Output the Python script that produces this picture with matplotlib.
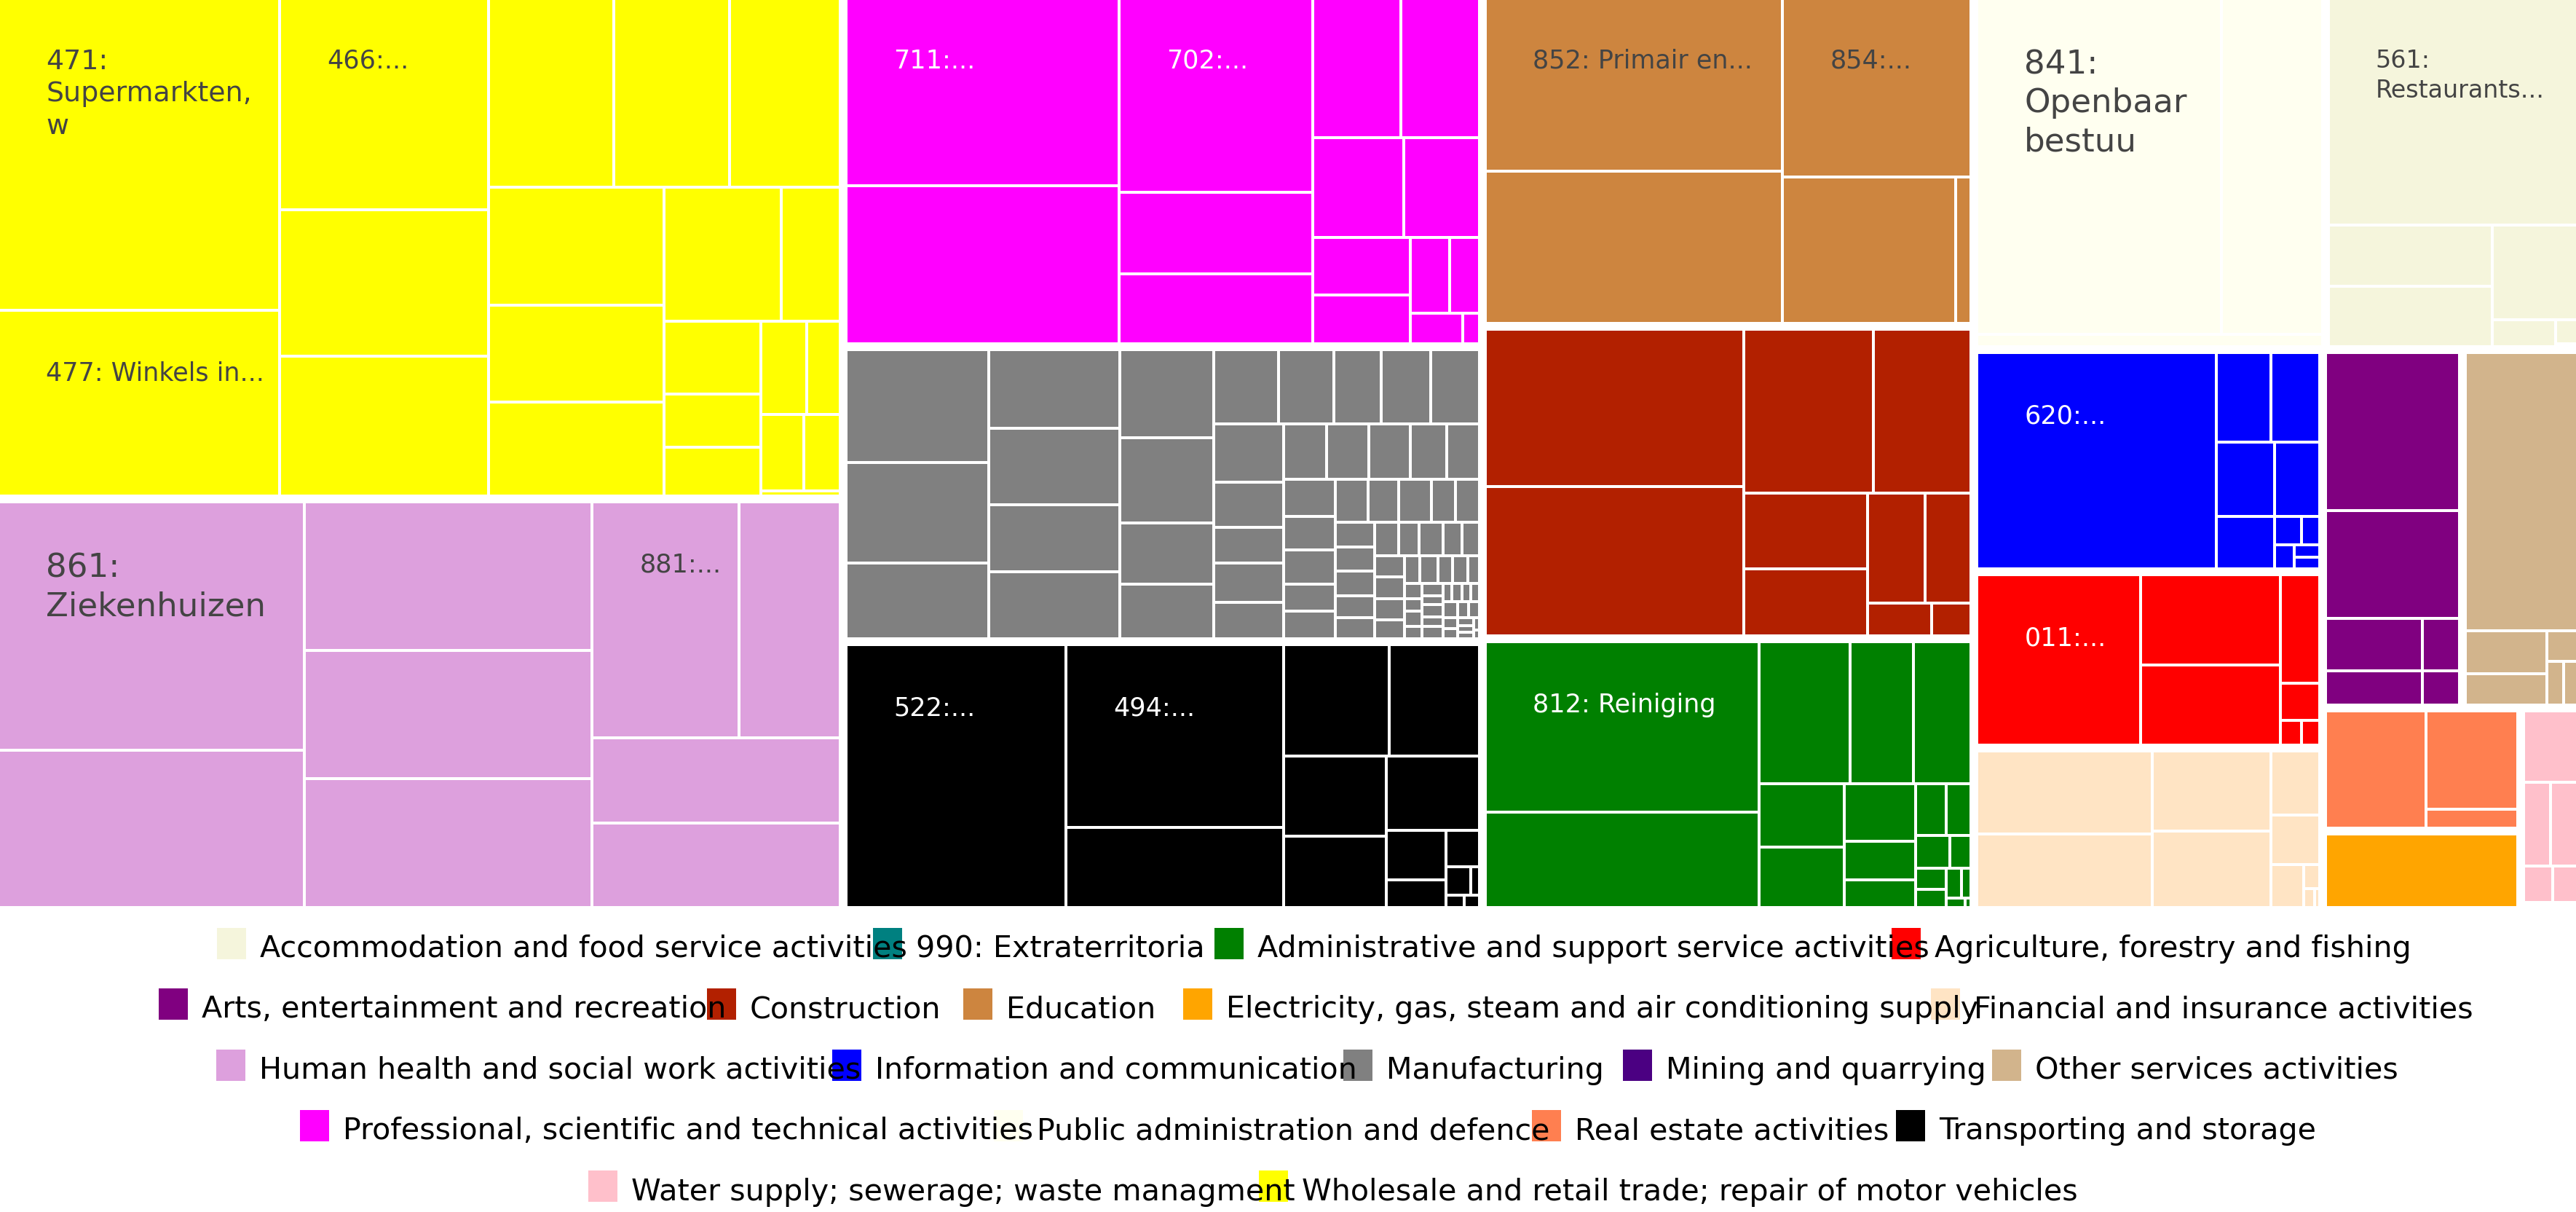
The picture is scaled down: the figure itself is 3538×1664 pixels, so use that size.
import matplotlib
matplotlib.use("Agg")
import matplotlib.pyplot as plt
from matplotlib.patches import Rectangle

# ------------------------------------------------------------------ data
# child values per sector (in display order of the original treemap)
wholesale = [168.7, 100.1, 85.1, 58.6, 56.0, 45.6, 42.2, 40.1, 39.8, 32.6, 31.6,
             30.3, 15.2, 13.6, 9.8, 9.1, 8.2, 6.0, 6.3, 5.3, 0.7]
health = [146.5, 92.7, 82.4, 71.3, 71.3, 66.9, 46.1, 40.5, 40.5]
professional = [99.4, 83.5, 72.8, 30.7, 26.2, 23.8, 21.3, 17.6, 14.6, 10.8, 9.2,
                5.8, 4.4, 3.1, 1.0]
manufacturing = [31.24, 27.86, 21.09, 20.03, 19.30, 17.01, 16.99, 16.15, 15.58,
                 11.11, 10.03, 9.4, 8.02, 6.8, 7.17, 7.12, 7.9, 6.17, 4.92, 5.35,
                 4.96, 4.57, 4.50, 4.48, 3.88, 3.56, 3.67, 3.38, 3.38, 2.75, 2.74,
                 2.74, 2.50, 2.74, 1.99, 2.01, 1.86, 1.85, 1.85, 1.62, 1.62, 1.58,
                 1.35, 1.57, 1.19, 1.17, 1.25, 1.25, 1.25, 1.09, 0.80, 0.97, 0.79,
                 0.80, 0.63, 0.55, 0.42, 0.54, 0.43, 0.51, 0.36, 0.50, 0.38, 0.50,
                 0.32, 0.34, 0.32, 0.32, 0.45, 0.35, 0.35, 0.30, 0.30, 0.25, 0.20,
                 0.20, 0.15, 0.10]
transport = [112.6, 77.2, 33.9, 22.9, 19.7, 16.0, 14.2, 13.5, 5.8, 3.2, 2.4, 1.36,
             0.49, 0.44, 0.37]
education = [99.9, 87.9, 65.6, 49.1, 4.35]
construction = [79.3, 74.7, 41.4, 31.1, 18.4, 16.0, 12.3, 9.8, 4.1, 2.5]
administrative = [90.9, 51.1, 25.2, 17.6, 15.95, 10.6, 10.0, 8.0, 5.45, 3.8, 3.1,
                  2.5, 2.2, 1.4, 1.25, 1.1, 0.9, 0.56, 0.34, 0.11]
public_admin = [160.5, 66.2, 8.3]
accommodation = [111.3, 19.55, 19.55, 15.7, 3.4, 1.04, 0.13]
information = [101.9, 9.63, 8.6, 8.49, 6.68, 6.03, 1.55, 1.04, 0.93, 0.63, 0.6]
agriculture = [55.2, 24.9, 22.2, 8.54, 2.92, 1.05, 0.9]
financial = [29.0, 25.8, 18.9, 18.0, 6.31, 4.79, 2.85, 0.78, 0.38, 0.21]
arts = [42.2, 28.8, 10.1, 6.6, 3.8, 2.5]
other_services = [63.0, 7.1, 5.18, 1.9, 1.48, 1.19]
real_estate = [24.1, 18.36, 3.5]
electricity = [29.5]
water = [8.38, 4.88, 4.88, 2.32, 1.94]
mining = [0.3]
extraterritorial = [0.24]

sector_names = [
    "Accommodation and food service activities", "990: Extraterritoria",
    "Administrative and support service activities", "Agriculture, forestry and fishing",
    "Arts, entertainment and recreation", "Construction", "Education",
    "Electricity, gas, steam and air conditioning supply",
    "Financial and insurance activities", "Human health and social work activities",
    "Information and communication", "Manufacturing", "Mining and quarrying",
    "Other services activities", "Professional, scientific and technical activities",
    "Public administration and defence", "Real estate activities",
    "Transporting and storage", "Water supply; sewerage; waste managment",
    "Wholesale and retail trade; repair of motor vehicles",
]
sector_children = [
    accommodation, extraterritorial, administrative, agriculture, arts, construction,
    education, electricity, financial, health, information, manufacturing, mining,
    other_services, professional, public_admin, real_estate, transport, water, wholesale,
]
sector_colors = [
    "#F5F5DC", "#008080", "#008000", "#FF0000", "#800080", "#B22000", "#CD853F",
    "#FFA500", "#FFE4C4", "#DDA0DD", "#0000FF", "#808080", "#4B0082", "#D2B48C",
    "#FF00FF", "#FFFFF0", "#FF7F50", "#000000", "#FFC0CB", "#FFFF00",
]

# labelled cells: (sector index, child index, text)
cell_labels = [
    (19, 0, "471:\nSupermarkten,\nw"), (19, 1, "477: Winkels in..."), (19, 2, "466:..."),
    (9, 0, "861:\nZiekenhuizen"), (9, 5, "881:..."),
    (14, 0, "711:..."), (14, 2, "702:..."),
    (17, 0, "522:..."), (17, 1, "494:..."),
    (6, 0, "852: Primair en..."), (6, 2, "854:..."),
    (2, 0, "812: Reiniging"),
    (15, 0, "841:\nOpenbaar\nbestuu"),
    (0, 0, "561:\nRestaurants..."),
    (10, 0, "620:..."), (3, 0, "011:..."),
]
legend_row_sizes = [4, 5, 5, 4, 2]

# ------------------------------------------------------------------ style
W, H = 3538, 1665
TREE_H = 1245
PAD_TOP, PAD_LEAF = 6, 2
label_font = {(19, 0): 27.3, (9, 0): 32.5, (15, 0): 32.5, (0, 0): 24.0}
default_label_font = 25.2
dark_text = "#444444"
light_bg = {0, 6, 9, 15, 19}
LEG_FS = 29.7

PHI = (1 + 5 ** 0.5) / 2


def squarify(values, x0, y0, x1, y1, ratio=PHI):
    n = len(values)
    rects = [None] * n
    value = float(sum(values))
    i0 = i1 = 0
    while i0 < n:
        dx, dy = max(x1 - x0, 1e-9), max(y1 - y0, 1e-9)
        sum_v = values[i1]
        i1 += 1
        min_v = max_v = sum_v
        alpha = max(dy / dx, dx / dy) / (value * ratio)
        beta = sum_v * sum_v * alpha
        min_ratio = max(max_v / beta, beta / min_v)
        while i1 < n:
            nv = values[i1]
            s = sum_v + nv
            mn, mx = min(min_v, nv), max(max_v, nv)
            beta = s * s * alpha
            new_ratio = max(mx / beta, beta / mn)
            if new_ratio > min_ratio:
                break
            sum_v, min_v, max_v, min_ratio = s, mn, mx, new_ratio
            i1 += 1
        if dx < dy:
            ny = y0 + dy * sum_v / value
            k = dx / sum_v
            xx = x0
            for j in range(i0, i1):
                rects[j] = (xx, y0, xx + values[j] * k, ny)
                xx += values[j] * k
            y0 = ny
        else:
            nx = x0 + dx * sum_v / value
            k = dy / sum_v
            yy = y0
            for j in range(i0, i1):
                rects[j] = (x0, yy, nx, yy + values[j] * k)
                yy += values[j] * k
            x0 = nx
        value -= sum_v
        i0 = i1
    return rects


def position(values, x0, y0, x1, y1, pad):
    out = []
    for a, b, c, d in squarify(values, x0 - pad, y0 - pad, x1 + pad, y1 + pad):
        a, b, c, d = a + pad, b + pad, c - pad, d - pad
        if c < a:
            a = c = (a + c) / 2
        if d < b:
            b = d = (b + d) / 2
        out.append((a, b, c, d))
    return out


fig = plt.figure(figsize=(W / 100, H / 100), dpi=100)
ax = fig.add_axes([0, 0, 1, 1])
ax.set_xlim(0, W)
ax.set_ylim(H, 0)
ax.axis("off")
plt.rcParams["font.family"] = ["DejaVu Sans"]

totals = [sum(c) for c in sector_children]
order = sorted(range(len(totals)), key=lambda i: -totals[i])
top_rects = position([totals[i] for i in order], 0, 0, W, TREE_H, PAD_TOP)

leaf_rects = {}
for idx, rect in zip(order, top_rects):
    leaves = position(sector_children[idx], *rect, PAD_LEAF)
    leaf_rects[idx] = leaves
    for a, b, c, d in leaves:
        if c - a > 0.3 and d - b > 0.3:
            ax.add_patch(Rectangle((a, b), c - a, d - b, facecolor=sector_colors[idx],
                                   edgecolor="none", linewidth=0))

for s, ci, txt in cell_labels:
    a, b, c, d = leaf_rects[s][ci]
    ax.text(a + 63, b + 67, txt, fontsize=label_font.get((s, ci), default_label_font),
            color=dark_text if s in light_bg else "white", ha="left", va="top",
            linespacing=1.3)

# ------------------------------------------------------------------ legend
renderer = fig.canvas.get_renderer()
pos = 0
for r, nrow in enumerate(legend_row_sizes):
    idxs = list(range(pos, pos + nrow))
    pos += nrow
    cy = 1296 + r * 83.5
    texts, spans = [], []
    for i in idxs:
        t = ax.text(0, cy + 18, sector_names[i], fontsize=LEG_FS, color="black",
                    ha="left", va="baseline", zorder=3)
        tw = t.get_window_extent(renderer).width
        texts.append(t)
        spans.append(122 + 0.876 * tw)
    x = (W - sum(spans)) / 2 + 27
    for i, t, sp in zip(idxs, texts, spans):
        ax.add_patch(Rectangle((x, cy - 21.5), 40, 43, facecolor=sector_colors[i],
                               edgecolor="none", zorder=2))
        t.set_x(x + 59)
        x += sp

fig.savefig("out.png", dpi=100)
